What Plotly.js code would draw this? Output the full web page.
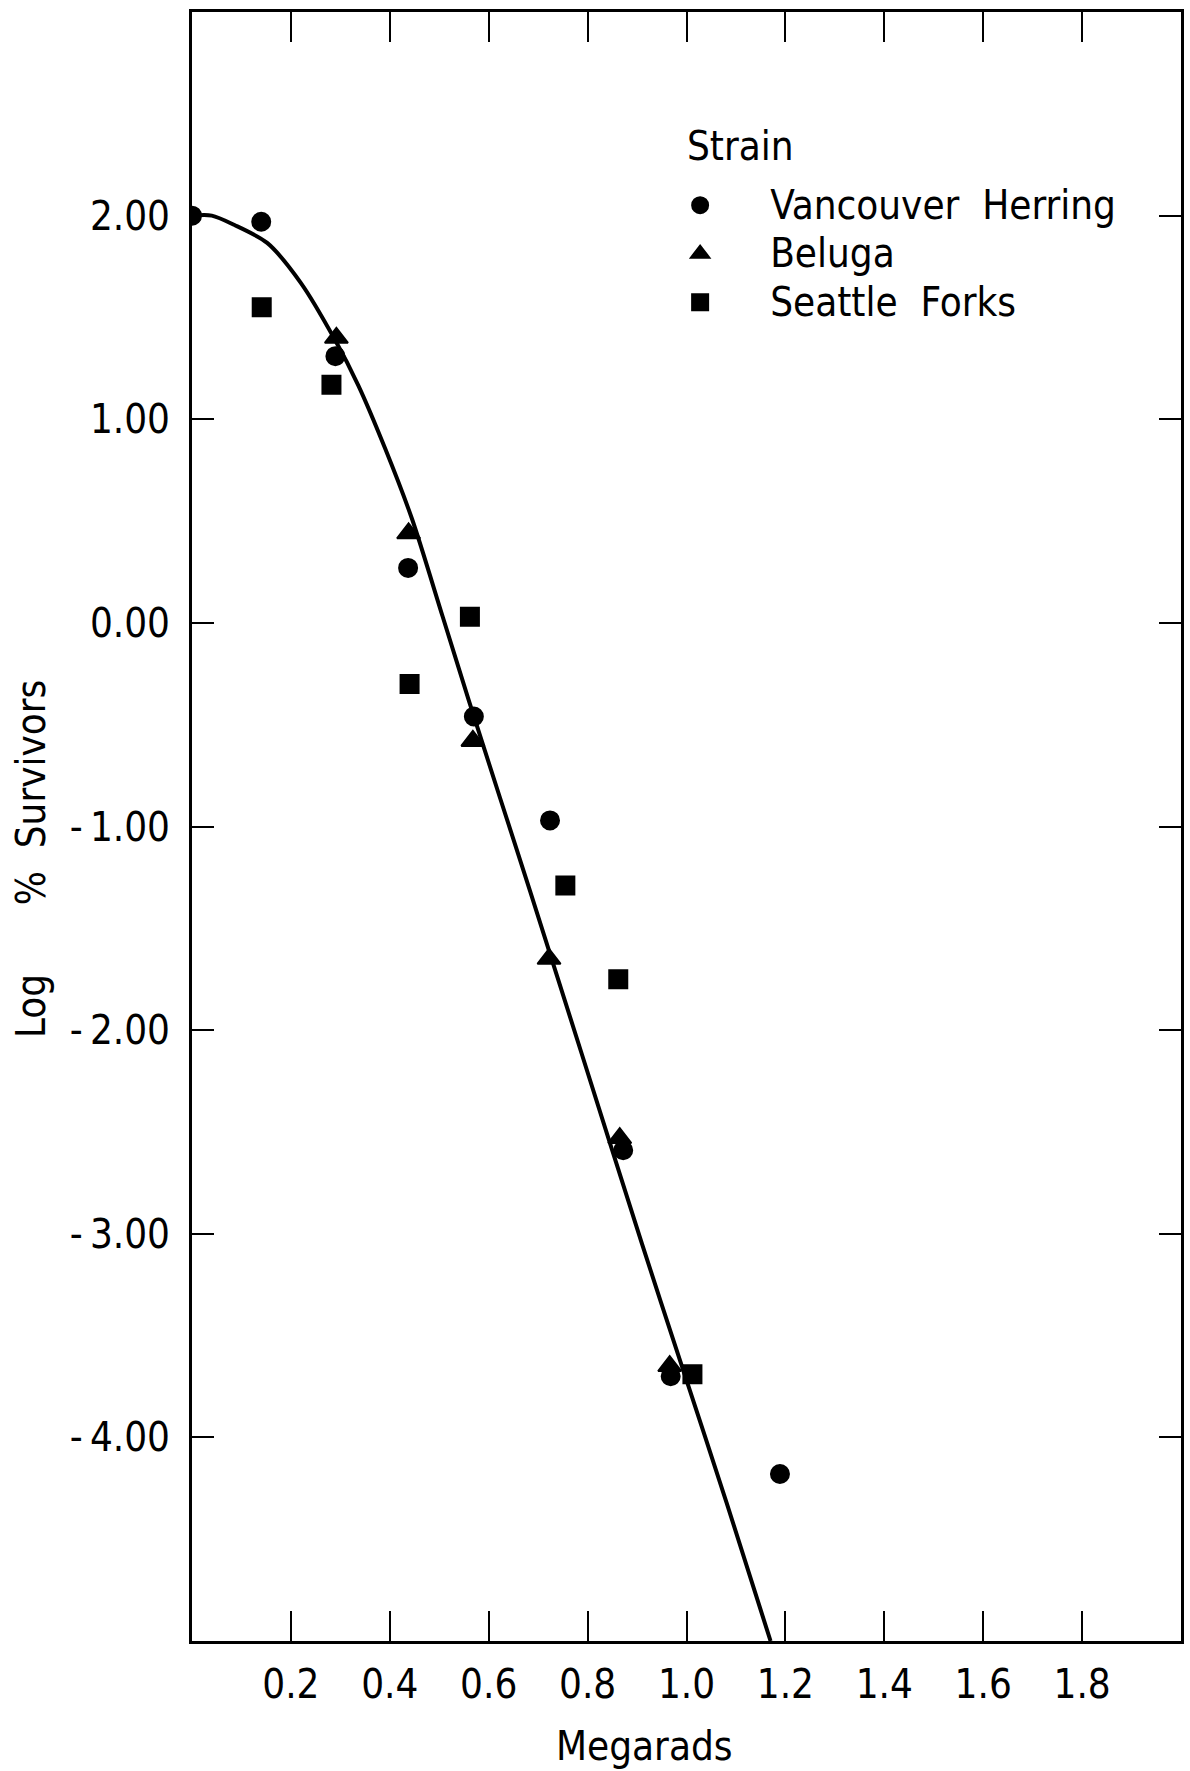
<!DOCTYPE html>
<html>
<head>
<meta charset="utf-8">
<script src="https://cdn.plot.ly/plotly-3.0.1.min.js"></script>
<style>
  html, body { margin: 0; padding: 0; background: #ffffff; }
  #chart { width: 1190px; height: 1771px; }
</style>
</head>
<body>
<div id="chart"></div>
<script>
// Dose (Megarads) against log % survivors for three strains
const herringDose    = [0, 0.14, 0.29, 0.437, 0.57, 0.724, 0.872, 0.968, 1.189];
const herringLogSurv = [2.00, 1.97, 1.31, 0.27, -0.46, -0.97, -2.59, -3.70, -4.18];

const belugaDose     = [0.292, 0.438, 0.568, 0.722, 0.865, 0.966];
const belugaLogSurv  = [1.40, 0.44, -0.58, -1.65, -2.53, -3.65];

const seattleDose    = [0.141, 0.282, 0.44, 0.562, 0.755, 0.862, 1.012];
const seattleLogSurv = [1.55, 1.17, -0.30, 0.03, -1.29, -1.75, -3.69];

// Fitted survival curve
const fitDose    = [0, 0.04, 0.085, 0.152, 0.22, 0.288, 0.336, 0.39, 0.445, 0.507, 0.561, 0.623, 0.684, 0.786, 0.91, 0.992, 1.081, 1.17];
const fitLogSurv = [2.00, 2.00, 1.955, 1.866, 1.67, 1.395, 1.168, 0.86, 0.51, 0.03, -0.39, -0.86, -1.32, -2.10, -3.05, -3.66, -4.32, -5.00];

// Axis ticks
const xTickVals = [0.2, 0.4, 0.6, 0.8, 1.0, 1.2, 1.4, 1.6, 1.8];
const xTickText = ['0.2', '0.4', '0.6', '0.8', '1.0', '1.2', '1.4', '1.6', '1.8'];
const yTickVals = [2, 1, 0, -1, -2, -3, -4];
const yTickText = ['2.00', '1.00', '0.00', '-\u20091.00', '-\u20092.00', '-\u20093.00', '-\u20094.00'];

// Legend
const legendTitle = 'Strain';
const strainNames = ['Vancouver\u00a0\u00a0Herring', 'Beluga', 'Seattle\u00a0\u00a0Forks'];

const FONT = '"DejaVu Sans Condensed", "Liberation Sans Narrow", sans-serif';
const INK = '#000000';
const TEXT_SIZE = 40;

function legendLabel(name) {
  return '<span style="font-size:' + TEXT_SIZE + 'px">' + name + '</span>';
}

const traces = [
  {
    x: fitDose, y: fitLogSurv,
    type: 'scatter', mode: 'lines',
    line: { color: INK, width: 4, shape: 'spline', smoothing: 0.8 },
    showlegend: false, hoverinfo: 'skip'
  },
  {
    x: herringDose, y: herringLogSurv,
    type: 'scatter', mode: 'markers', name: legendLabel(strainNames[0]),
    marker: { symbol: 'circle', size: 18, color: INK, line: { color: INK, width: 2 } }
  },
  {
    x: belugaDose, y: belugaLogSurv,
    type: 'scatter', mode: 'markers', name: legendLabel(strainNames[1]),
    marker: { symbol: 'triangle-up', size: 20, color: INK, line: { color: INK, width: 2 } }
  },
  {
    x: seattleDose, y: seattleLogSurv,
    type: 'scatter', mode: 'markers', name: legendLabel(strainNames[2]),
    marker: { symbol: 'square', size: 18, color: INK, line: { color: INK, width: 2 } }
  }
];

const axisCommon = {
  showgrid: false,
  zeroline: false,
  showline: true,
  linecolor: INK,
  linewidth: 3,
  mirror: 'ticks',
  ticks: 'inside',
  tickcolor: INK,
  tickwidth: 2,
  tickmode: 'array',
  tickfont: { family: FONT, size: TEXT_SIZE, color: INK },
  fixedrange: true
};

const layout = {
  width: 1190,
  height: 1771,
  margin: { l: 192, r: 9, t: 12, b: 130, pad: 0 },
  paper_bgcolor: '#ffffff',
  plot_bgcolor: '#ffffff',
  font: { family: FONT, size: TEXT_SIZE, color: INK },
  showlegend: true,
  legend: {
    x: 0.443, y: 0.8994, xanchor: 'left', yanchor: 'top',
    font: { family: FONT, size: 35, color: INK },
    itemwidth: 130,
    bgcolor: 'rgba(0,0,0,0)',
    borderwidth: 0,
    tracegroupgap: 0
  },
  xaxis: Object.assign({}, axisCommon, {
    range: [0, 2],
    tickvals: xTickVals,
    ticktext: xTickText,
    ticklen: 30,
    ticklabelstandoff: 6
  }),
  yaxis: Object.assign({}, axisCommon, {
    range: [-5, 3],
    tickvals: yTickVals,
    ticktext: yTickText,
    ticklen: 22,
    ticklabelstandoff: 11
  }),
  annotations: [
    {
      text: legendTitle, xref: 'paper', yref: 'paper',
      x: 0.4985, y: 0.9177, xanchor: 'left', yanchor: 'middle',
      showarrow: false, font: { family: FONT, size: TEXT_SIZE, color: INK }
    },
    {
      text: 'Megarads', xref: 'paper', yref: 'paper',
      x: 0.458, y: -0.0645, xanchor: 'center', yanchor: 'middle',
      showarrow: false, font: { family: FONT, size: TEXT_SIZE, color: INK }
    },
    {
      text: 'Log\u00a0\u00a0\u00a0\u00a0\u00a0\u00a0%\u00a0\u00a0Survivors', xref: 'paper', yref: 'paper',
      x: -0.1628, y: 0.48, xanchor: 'center', yanchor: 'middle', textangle: -90,
      showarrow: false, font: { family: FONT, size: TEXT_SIZE, color: INK }
    }
  ]
};

Plotly.newPlot('chart', traces, layout, { displayModeBar: false, staticPlot: true });
</script>
</body>
</html>
